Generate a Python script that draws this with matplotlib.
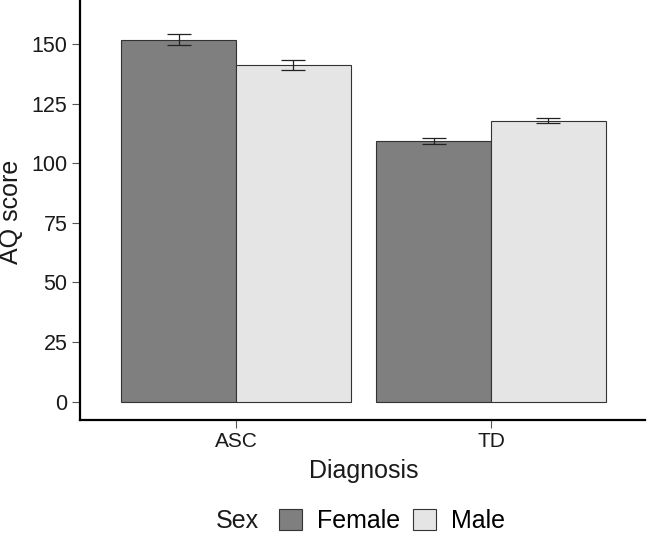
import matplotlib
matplotlib.use("Agg")
import matplotlib.pyplot as plt
from matplotlib.patches import Patch
import numpy as np

plt.rcParams['font.family'] = ['Liberation Sans', 'DejaVu Sans']

diagnosis = ["ASC", "TD"]
sexes = ["Female", "Male"]
means = {"Female": [151.8, 109.3], "Male": [141.4, 117.9]}
errors = {"Female": [2.3, 1.1], "Male": [2.1, 1.2]}
colors = {"Female": "#7f7f7f", "Male": "#e5e5e5"}
y_ticks = [0, 25, 50, 75, 100, 125, 150]

W, H = 647, 535
fig = plt.figure(figsize=(W / 100, H / 100), dpi=100)
ax = fig.add_axes([80 / W, (H - 420) / H, 565 / W, 420 / H])

x = np.arange(1, len(diagnosis) + 1)
bw = 0.45
offsets = {"Female": -bw / 2, "Male": bw / 2}
for s in sexes:
    ax.bar(x + offsets[s], means[s], width=bw, color=colors[s],
           edgecolor="#333333", linewidth=0.8, zorder=2)
    ax.errorbar(x + offsets[s], means[s], yerr=errors[s], fmt="none",
                ecolor="#222222", elinewidth=0.9, capsize=8.5, capthick=0.9, zorder=3)

ax.set_xlim(0.388, 2.604)
ax.set_ylim(-7.76, 168.5)
ax.set_xticks(x)
ax.set_xticklabels(diagnosis, fontsize=15)
ax.set_yticks(y_ticks)
ax.set_yticklabels([str(t) for t in y_ticks], fontsize=15.5)
ax.tick_params(axis="both", length=5.5, width=0.8, color="#555555", labelcolor="#1a1a1a")
ax.tick_params(axis="y", pad=3.6)
ax.tick_params(axis="x", pad=3.3)

for sp in ["top", "right"]:
    ax.spines[sp].set_visible(False)
for sp in ["left", "bottom"]:
    ax.spines[sp].set_linewidth(1.6)
    ax.spines[sp].set_color("black")

ax.set_xlabel("Diagnosis", fontsize=18, color="#1a1a1a")
ax.xaxis.label.set_va("baseline")
ax.xaxis.set_label_coords((364 - 80) / 565, (420 - 478) / 420)
ax.set_ylabel("AQ score", fontsize=18, color="#1a1a1a")
ax.yaxis.set_label_coords(-0.100, (420 - 212) / 420)

handles = [Patch(facecolor=colors[s], edgecolor="#333333", linewidth=0.8) for s in sexes]
fig.legend(handles, sexes, loc="center", bbox_to_anchor=(392 / W, 14 / H),
           ncol=2, frameon=False, fontsize=18, handlelength=0.92, handleheight=0.9,
           handletextpad=0.6, columnspacing=0.5, borderpad=0, borderaxespad=0)
fig.text(216 / W, 14 / H, "Sex", fontsize=18, ha="left", va="center", color="#1a1a1a")

fig.savefig("out.png", dpi=100)
